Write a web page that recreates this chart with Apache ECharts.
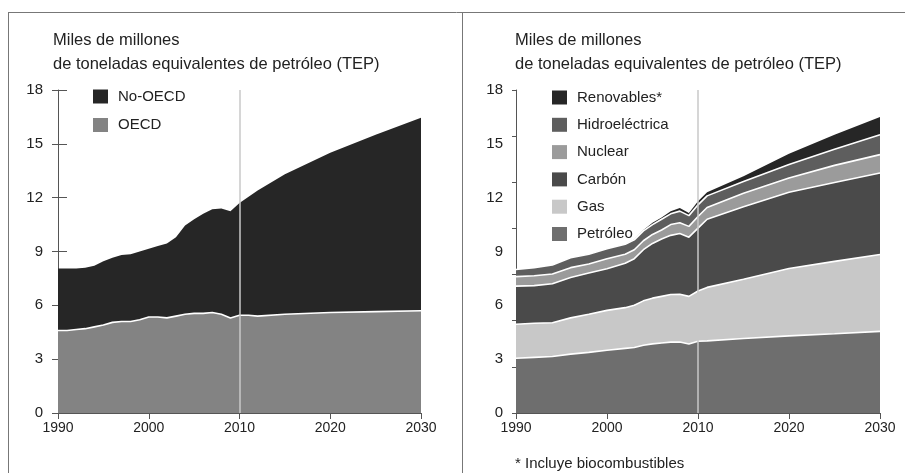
<!DOCTYPE html>
<html>
<head>
<meta charset="utf-8">
<script src="https://cdn.jsdelivr.net/npm/echarts@6/dist/echarts.min.js"></script>
<style>
  html, body { margin: 0; padding: 0; background: #fff; }
  #grafico { width: 905px; height: 473px; }
</style>
</head>
<body>
<div id="grafico"></div>
<script>
// Valores leídos como altura de cada frontera entre capas (acumulado, miles de millones TEP)

// --- panel izquierdo ---
const aniosIzq = [1990, 1991, 1992, 1993, 1994, 1995, 1996, 1997, 1998, 1999, 2000,
  2001, 2002, 2003, 2004, 2005, 2006, 2007, 2008, 2009, 2010, 2011, 2012, 2015, 2020, 2025, 2030]
const topeOecd = [4.6, 4.6, 4.65, 4.7, 4.8, 4.9, 5.05, 5.1, 5.1, 5.2, 5.35,
  5.35, 5.3, 5.4, 5.5, 5.55, 5.55, 5.6, 5.5, 5.3, 5.45, 5.45, 5.4, 5.5, 5.6, 5.65, 5.7]
const topeTotalIzq = [8.05, 8.05, 8.05, 8.1, 8.2, 8.45, 8.65, 8.8, 8.85, 9.0, 9.15,
  9.3, 9.45, 9.8, 10.45, 10.8, 11.1, 11.35, 11.4, 11.25, 11.7, 12.05, 12.4, 13.3, 14.5, 15.5, 16.45]

// --- panel derecho ---
const aniosDer = [1990, 1992, 1994, 1996, 1998, 2000, 2002, 2003, 2004, 2005,
  2006, 2007, 2008, 2009, 2010, 2011, 2015, 2020, 2025, 2030]
const topePetroleo = [3.05, 3.1, 3.15, 3.28, 3.38, 3.5, 3.6, 3.65, 3.78, 3.85,
  3.9, 3.95, 3.96, 3.85, 4.0, 4.02, 4.15, 4.3, 4.42, 4.55]
const topeGas = [4.95, 5.0, 5.03, 5.3, 5.5, 5.72, 5.87, 6.0, 6.25, 6.4,
  6.5, 6.6, 6.62, 6.5, 6.8, 7.0, 7.45, 8.05, 8.45, 8.83]
const topeCarbon = [7.07, 7.1, 7.2, 7.55, 7.8, 8.04, 8.35, 8.6, 9.1, 9.45,
  9.7, 9.9, 10.0, 9.8, 10.3, 10.8, 11.5, 12.3, 12.85, 13.37]
const topeNuclear = [7.6, 7.65, 7.75, 8.1, 8.3, 8.6, 8.85, 9.1, 9.6, 9.95,
  10.2, 10.5, 10.6, 10.4, 10.95, 11.45, 12.25, 13.1, 13.8, 14.4]
const topeHidro = [8.0, 8.1, 8.25, 8.65, 8.85, 9.15, 9.4, 9.65, 10.15, 10.5,
  10.8, 11.1, 11.25, 11.0, 11.6, 12.1, 12.9, 13.85, 14.7, 15.5]
const topeTotalDer = [8.0, 8.1, 8.25, 8.65, 8.85, 9.15, 9.4, 9.68, 10.2, 10.6,
  10.9, 11.25, 11.43, 11.15, 11.8, 12.3, 13.2, 14.45, 15.5, 16.5]

const ticksY = [0, 3, 6, 9, 12, 15, 18]
const ticksX = [1990, 2000, 2010, 2020, 2030]
const anioCorte = 2010

const fuente = "'Liberation Sans', Arial, sans-serif"
const colorEje = '#555'
const colorTexto = '#222'

const pares = (anios, vals) => anios.map((a, i) => [a, vals[i]])

// cada capa se pinta desde 0 hasta su frontera superior; se dibujan de arriba a abajo
const capa = (nombre, anios, vals, color, xIdx, yIdx, tope) => ({
  name: nombre,
  type: 'line',
  xAxisIndex: xIdx,
  yAxisIndex: yIdx,
  data: pares(anios, vals),
  symbol: 'none',
  smooth: false,
  itemStyle: { color },
  lineStyle: { color: tope ? color : '#fff', width: tope ? 0 : 1.6 },
  areaStyle: { color, opacity: 1, origin: 'start' },
  emphasis: { disabled: true },
  silent: true
})

const lineaCorte = () => ({
  silent: true,
  symbol: 'none',
  label: { show: false },
  lineStyle: { color: '#c8c8c8', width: 1.5, type: 'solid' },
  data: [{ xAxis: anioCorte }]
})

const ejeX = (gridIdx) => ({
  type: 'value',
  gridIndex: gridIdx,
  min: ticksX[0],
  max: ticksX[ticksX.length - 1],
  interval: 10,
  axisLine: { lineStyle: { color: colorEje, width: 1 } },
  axisTick: { show: true, length: 6, lineStyle: { color: colorEje } },
  axisLabel: { color: colorTexto, fontSize: 14, fontFamily: fuente, margin: 8, formatter: v => String(v) },
  splitLine: { show: false }
})

const ejeYBase = (gridIdx) => ({
  type: 'value',
  gridIndex: gridIdx,
  min: ticksY[0],
  max: ticksY[ticksY.length - 1],
  splitLine: { show: false }
})

const tituloEje = (x) => ({
  text: 'Miles de millones\nde toneladas equivalentes de petróleo (TEP)',
  left: x, top: 28,
  padding: 0,
  textStyle: { fontSize: 16.5, fontWeight: 'normal', color: colorTexto, lineHeight: 24, fontFamily: fuente }
})

const estiloLeyenda = {
  orient: 'vertical',
  itemWidth: 15, itemHeight: 14,
  icon: 'rect',
  padding: 0,
  selectedMode: false,
  textStyle: { fontSize: 15, color: colorTexto, fontFamily: fuente, padding: [0, 0, 0, 5] }
}

const grafico = echarts.init(document.getElementById('grafico'), null, { renderer: 'canvas' })

const opciones = {
  animation: false,
  textStyle: { fontFamily: fuente },
  title: [
    tituloEje(53),
    tituloEje(515),
    {
      text: '* Incluye biocombustibles',
      left: 515, top: 456,
      padding: 0,
      textStyle: { fontSize: 15, fontWeight: 'normal', color: colorTexto, fontFamily: fuente }
    }
  ],
  legend: [
    Object.assign({ data: ['No-OECD', 'OECD'], left: 93, top: 89, itemGap: 13.5 }, estiloLeyenda),
    Object.assign({
      data: ['Renovables*', 'Hidroeléctrica', 'Nuclear', 'Carbón', 'Gas', 'Petróleo'],
      left: 552, top: 90, itemGap: 12.3
    }, estiloLeyenda)
  ],
  grid: [
    { left: 58, right: 484, top: 90, bottom: 60 },
    { left: 516, right: 25, top: 90, bottom: 60 }
  ],
  xAxis: [ejeX(0), ejeX(1)],
  yAxis: [
    // izquierda: etiquetas + ticks hacia dentro
    Object.assign(ejeYBase(0), {
      interval: 3,
      axisLine: { show: true, lineStyle: { color: colorEje } },
      axisTick: { show: true, inside: true, length: 9, lineStyle: { color: colorEje } },
      axisLabel: { color: colorTexto, fontSize: 15, fontFamily: fuente, margin: 15 }
    }),
    // izquierda: ticks hacia fuera
    Object.assign(ejeYBase(0), {
      interval: 3,
      position: 'left',
      axisLine: { show: false },
      axisTick: { show: true, inside: false, length: 6, lineStyle: { color: colorEje } },
      axisLabel: { show: false }
    }),
    // derecha: etiquetas cada 3
    Object.assign(ejeYBase(1), {
      interval: 3,
      axisLine: { show: true, lineStyle: { color: colorEje } },
      axisTick: { show: false },
      axisLabel: { color: colorTexto, fontSize: 15, fontFamily: fuente, margin: 13 }
    }),
    // derecha: ticks en 7 tramos (como en el original)
    Object.assign(ejeYBase(1), {
      interval: 18 / 7,
      position: 'left',
      axisLine: { show: false },
      axisTick: { show: true, inside: false, length: 4, lineStyle: { color: colorEje } },
      axisLabel: { show: false }
    })
  ],
  series: [
    capa('No-OECD', aniosIzq, topeTotalIzq, '#262626', 0, 0, true),
    Object.assign(capa('OECD', aniosIzq, topeOecd, '#838383', 0, 0, false), { markLine: lineaCorte() }),
    capa('Renovables*', aniosDer, topeTotalDer, '#262626', 1, 2, true),
    capa('Hidroeléctrica', aniosDer, topeHidro, '#5e5e5e', 1, 2, false),
    capa('Nuclear', aniosDer, topeNuclear, '#9b9b9b', 1, 2, false),
    capa('Carbón', aniosDer, topeCarbon, '#4a4a4a', 1, 2, false),
    capa('Gas', aniosDer, topeGas, '#c8c8c8', 1, 2, false),
    Object.assign(capa('Petróleo', aniosDer, topePetroleo, '#6e6e6e', 1, 2, false), { markLine: lineaCorte() })
  ],
  graphic: [
    // marco: línea superior, borde izquierdo y separador
    { type: 'line', silent: true, shape: { x1: 8, y1: 12.5, x2: 905, y2: 12.5 }, style: { stroke: '#777', lineWidth: 1 } },
    { type: 'line', silent: true, shape: { x1: 8.5, y1: 12, x2: 8.5, y2: 473 }, style: { stroke: '#777', lineWidth: 1 } },
    { type: 'line', silent: true, shape: { x1: 462.5, y1: 12, x2: 462.5, y2: 473 }, style: { stroke: '#777', lineWidth: 1 } }
  ]
}

grafico.setOption(opciones)
window.addEventListener('resize', () => grafico.resize())
</script>
</body>
</html>
